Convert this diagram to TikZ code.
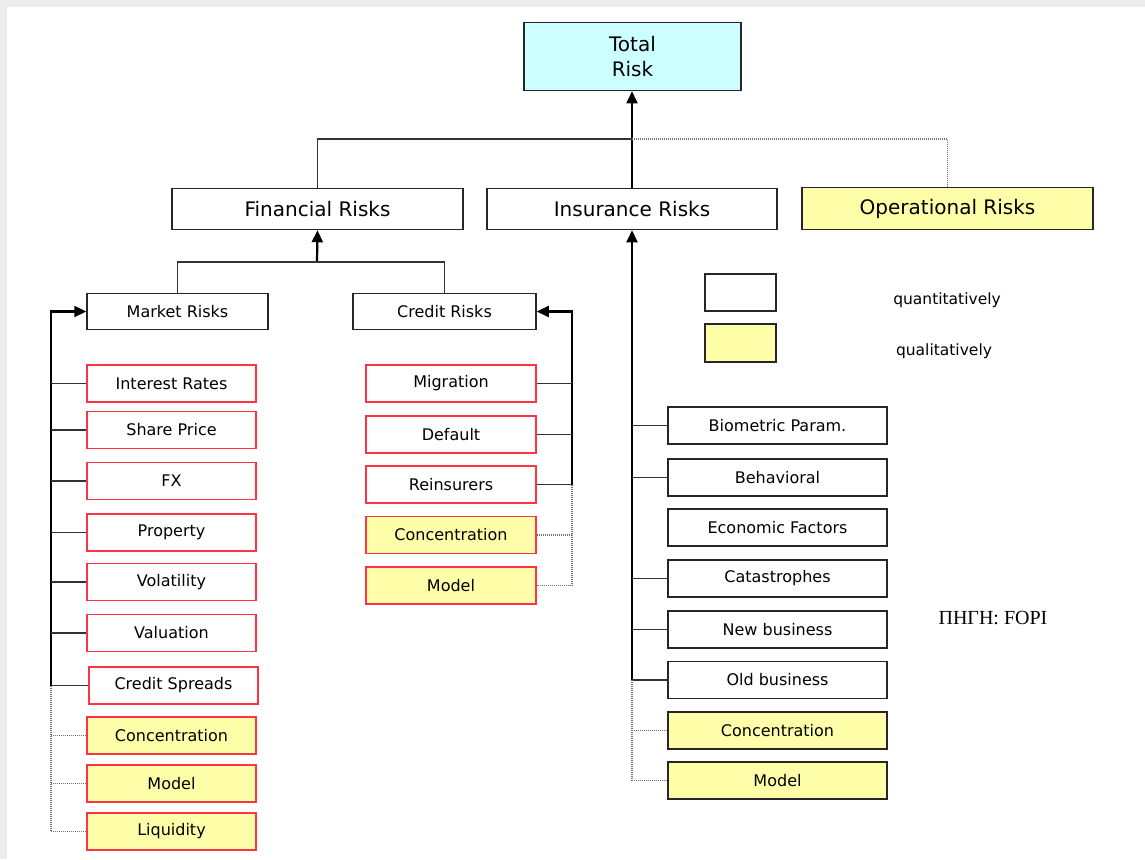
\documentclass[tikz,border=0pt]{standalone}
\usepackage{fontspec}
\setmainfont{DejaVu Sans}
\newfontfamily\srcfont{Liberation Serif}
\usetikzlibrary{arrows.meta}
\definecolor{totalcyan}{HTML}{CCFFFF}
\definecolor{qualyellow}{HTML}{FFFFAA}
\definecolor{riskred}{HTML}{FF3344}
\tikzset{
  mainbox/.style={draw=black!85,line width=1.5pt,fill=white,inner sep=0pt,
    minimum width=291pt,minimum height=41pt,font=\fontsize{20}{25}\selectfont},
  subbox/.style={draw=black!85,line width=1.5pt,fill=white,inner sep=0pt,
    minimum width=181pt,minimum height=36pt,font=\fontsize{16}{19}\selectfont},
  riskbox/.style={draw=riskred,line width=1.5pt,fill=white,inner sep=0pt,
    minimum width=169pt,minimum height=37pt,font=\fontsize{16}{19}\selectfont},
  insbox/.style={riskbox,draw=black!85,minimum width=219pt},
  qual/.style={fill=qualyellow},
  bus/.style={line width=2.2pt,black},
  link/.style={line width=1.7pt,black!80},
  optlink/.style={line width=1.4pt,black!55,dash pattern=on 1pt off 1pt},
  tip/.style={-{Triangle[length=12pt,width=11pt]}}
}
\begin{document}
\begin{tikzpicture}[x=1pt,y=-1pt]
  \useasboundingbox (0,0) rectangle (1145,859);
  \fill[black!7] (0,0) rectangle (1145,859);
  \fill[white] (7,7) rectangle (1145,859);
  %% top
  \node[mainbox,fill=totalcyan,minimum width=217pt,minimum height=68pt,align=center] (total) at (632.5,56.5) {Total\\Risk};
  \node[mainbox] (fin) at (317.5,209) {Financial Risks};
  \node[mainbox,minimum width=290pt] (ins) at (632,209) {Insurance Risks};
  \node[mainbox,qual,minimum height=42pt] (ops) at (947.5,208.5) {Operational Risks};
  \coordinate (tj) at (632,139);
  \draw[link,black,tip] (ins.north) -- (ins.north |- total.south);
  \draw[link] (fin.north) |- (tj);
  \draw[optlink] (tj) -| (ops.north);
  %% financial
  \node[subbox] (market) at (177.5,311.5) {Market Risks};
  \node[subbox,minimum width=183pt] (credit) at (444.5,311.5) {Credit Risks};
  \coordinate (fj) at (317,262);
  \draw[bus,tip] (fj) -- (fin.south);
  \draw[link] (market.north) |- (fj) -| (credit.north);
  %% market risks
  \node[riskbox] (mir) at (171.5,383.5) {Interest Rates};
  \node[riskbox] (msp) at (171.5,430) {Share Price};
  \node[riskbox] (mfx) at (171.5,481) {FX};
  \node[riskbox] (mpr) at (171.5,532.5) {Property};
  \node[riskbox] (mvo) at (171.5,582) {Volatility};
  \node[riskbox] (mva) at (171.5,633) {Valuation};
  \node[riskbox] (mcs) at (173.5,685.5) {Credit Spreads};
  \node[riskbox,qual] (mco) at (171.5,735.5) {Concentration};
  \node[riskbox,qual] (mmo) at (171.5,783.5) {Model};
  \node[riskbox,qual] (mli) at (171.5,831.5) {Liquidity};
  \coordinate (mbus) at (51,685.5);
  \draw[bus,tip] (mbus) |- (market.west);
  \foreach \n in {mir,msp,mfx,mpr,mvo,mva,mcs}
    \draw[link] (\n.west) -- (\n.west -| mbus);
  \draw[optlink] (mbus) |- (mli.west);
  \foreach \n in {mco,mmo}
    \draw[optlink] (\n.west) -- (\n.west -| mbus);
  %% credit risks
  \node[riskbox,minimum width=170pt] (cmi) at (451,383.5) {Migration};
  \node[riskbox,minimum width=170pt] (cde) at (451,434.5) {Default};
  \node[riskbox,minimum width=170pt] (cre) at (451,484.5) {Reinsurers};
  \node[riskbox,qual,minimum width=170pt] (cco) at (451,535) {Concentration};
  \node[riskbox,qual,minimum width=170pt] (cmo) at (451,585.5) {Model};
  \coordinate (cbus) at (572,484.5);
  \draw[bus,tip] (cbus) |- (credit.east);
  \foreach \n in {cmi,cde,cre}
    \draw[link] (\n.east) -- (\n.east -| cbus);
  \draw[optlink] (cbus) |- (cmo.east);
  \draw[optlink] (cco.east) -- (cco.east -| cbus);
  %% insurance risks
  \node[insbox] (ibp) at (777.5,425.5) {Biometric Param.};
  \node[insbox] (ibe) at (777.5,477.5) {Behavioral};
  \node[insbox] (iec) at (777.5,527.5) {Economic Factors};
  \node[insbox] (ica) at (777.5,578.5) {Catastrophes};
  \node[insbox] (inb) at (777.5,629.5) {New business};
  \node[insbox] (iob) at (777.5,680) {Old business};
  \node[insbox,qual] (ico) at (777.5,730.5) {Concentration};
  \node[insbox,qual] (imo) at (777.5,780.5) {Model};
  \coordinate (ibus) at (ins.south |- iob.west);
  \draw[bus,tip] (ibus) -- (ins.south);
  \foreach \n in {ibp,ibe,ica,inb,iob}
    \draw[link] (\n.west) -- (\n.west -| ibus);
  \draw[optlink] (ibus) |- (imo.west);
  \draw[optlink] (ico.west) -- (ico.west -| ibus);
  %% legend
  \node[subbox,minimum width=71pt,minimum height=37pt] (quantbox) at (740.5,292.5) {};
  \node[subbox,qual,minimum width=71pt,minimum height=38pt] (qualbox) at (740.5,343) {};
  \node[font=\fontsize{15.5}{18}\selectfont] (quanttext) at (947,300) {quantitatively};
  \node[font=\fontsize{15.5}{18}\selectfont] (qualtext) at (944,351) {qualitatively};
  %% source
  \node[font=\srcfont\fontsize{20}{24}\selectfont] (source) at (993,618) {ΠΗΓΗ: FOPI};
\end{tikzpicture}
\end{document}
